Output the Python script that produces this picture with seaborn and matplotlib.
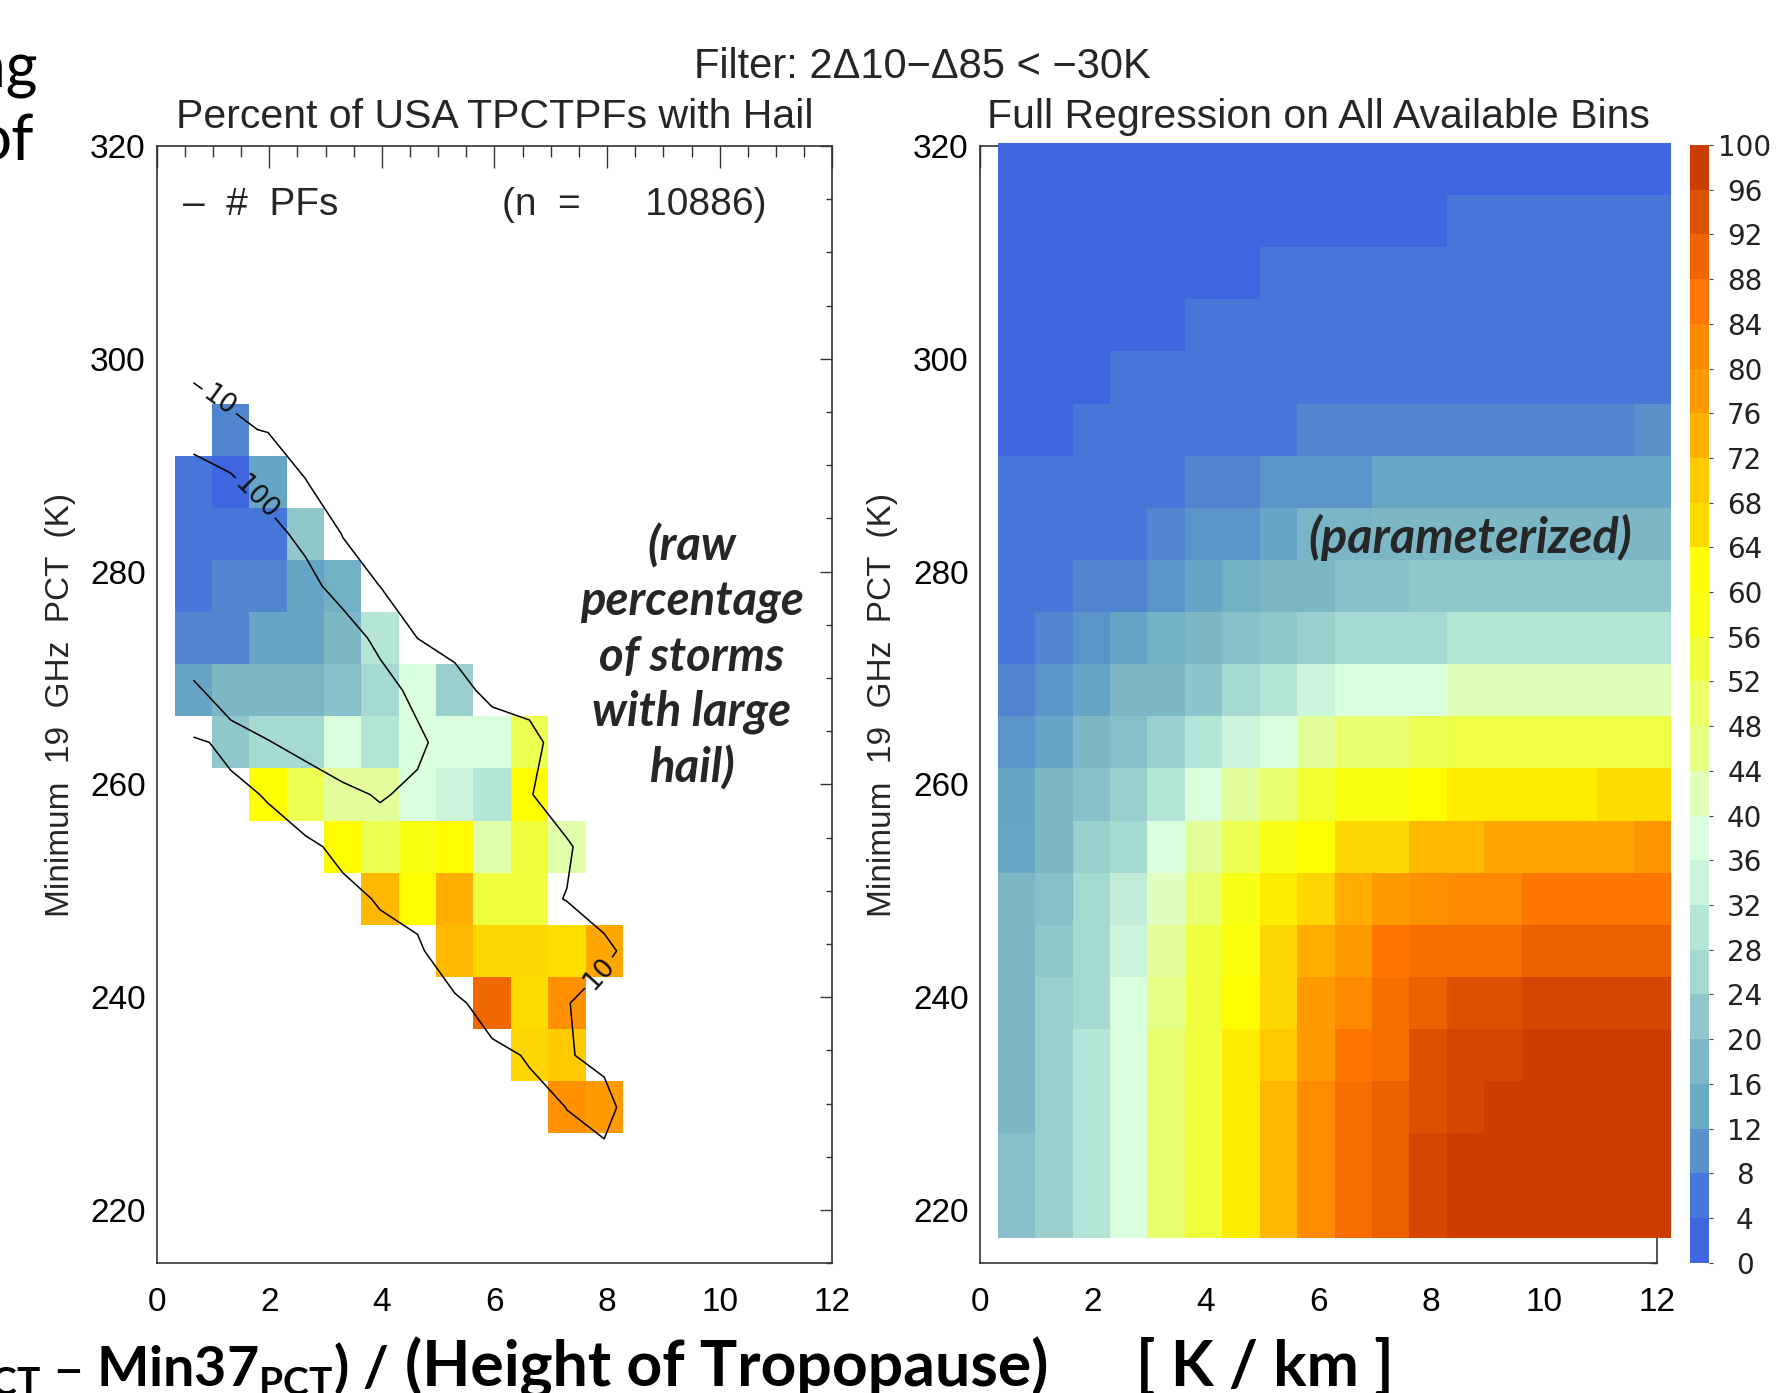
import numpy as np
import matplotlib
matplotlib.use("Agg")
import matplotlib.pyplot as plt
import seaborn as sns
from matplotlib.colors import ListedColormap, BoundaryNorm, Normalize
from matplotlib.cm import ScalarMappable

sns.set_theme(style="white")
plt.rcParams["font.family"] = ["Liberation Sans", "DejaVu Sans"]

# ---- bin geometry (x in K/km, y in K) ----
x_edges = np.linspace(0.32, 12.26, 19)
y_edges = np.linspace(217.4, 320.3, 22)
x_mid = 0.5 * (x_edges[:-1] + x_edges[1:])
y_mid = 0.5 * (y_edges[:-1] + y_edges[1:])

# colour bands of the colour bar, 0-4 ... 96-100
band_colors = ["#3F66DE", "#4878D8", "#5A92C9", "#6AACC4", "#7EB8C6",
               "#90C7CA", "#A6D9D1", "#B5E5D6", "#CBF5DA", "#D9FFDE",
               "#DFFFB8", "#E6FF85", "#EAFF68", "#F0FF3C", "#F8FF12",
               "#FFFF00", "#FFDC00", "#FFCB00", "#FFB300", "#FF9B00",
               "#FF8A00", "#FF7700", "#EE6500", "#DD5200", "#CC3D00"]
cbar_levels = [0, 4, 8, 12, 16, 20, 24, 28, 32, 36, 40, 44, 48, 52, 56,
               60, 64, 68, 72, 76, 80, 84, 88, 92, 96, 100]

N = np.nan
# raw percentage of PFs with hail; rows from 220 K (bottom) up to 320 K
raw_pct = [
    [N, N, N, N, N, N, N, N, N, N, N, N, N, N, N, N, N, N],
    [N, N, N, N, N, N, N, N, N, N, N, N, N, N, N, N, N, N],
    [N, N, N, N, N, N, N, N, N, N, 80, 78, N, N, N, N, N, N],
    [N, N, N, N, N, N, N, N, N, 67.5, 70, N, N, N, N, N, N, N],
    [N, N, N, N, N, N, N, N, 89, 66, 80, N, N, N, N, N, N, N],
    [N, N, N, N, N, N, N, 73, 67.5, 67.5, 65.5, 76, N, N, N, N, N, N],
    [N, N, N, N, N, 73, 62, 75, 54, 54, N, N, N, N, N, N, N, N],
    [N, N, N, N, 62, 52, 58, 62, 43, 54, 43, N, N, N, N, N, N, N],
    [N, N, 62, 52, 44, 44, 38, 34, 30, 62, N, N, N, N, N, N, N, N],
    [N, 22, 26, 26, 38, 30, 38, 38, 38, 52, N, N, N, N, N, N, N, N],
    [13, 18, 18, 18, 20, 26, 38, 24, N, N, N, N, N, N, N, N, N, N],
    [8, 8, 13, 13, 18, 30, N, N, N, N, N, N, N, N, N, N, N, N],
    [6, 8, 8, 13, 15.5, N, N, N, N, N, N, N, N, N, N, N, N, N],
    [6, 6, 6, 22, N, N, N, N, N, N, N, N, N, N, N, N, N, N],
    [6, 2, 13, N, N, N, N, N, N, N, N, N, N, N, N, N, N, N],
    [N, 8, N, N, N, N, N, N, N, N, N, N, N, N, N, N, N, N],
    [N, N, N, N, N, N, N, N, N, N, N, N, N, N, N, N, N, N],
    [N, N, N, N, N, N, N, N, N, N, N, N, N, N, N, N, N, N],
    [N, N, N, N, N, N, N, N, N, N, N, N, N, N, N, N, N, N],
    [N, N, N, N, N, N, N, N, N, N, N, N, N, N, N, N, N, N],
    [N, N, N, N, N, N, N, N, N, N, N, N, N, N, N, N, N, N],
]

# number of PFs per bin (contoured at 10 and 100)
pf_count = [
    [0, 0, 0, 0, 0, 0, 0, 0, 0, 0, 0, 0, 0, 0, 0, 0, 0, 0],
    [0, 0, 0, 0, 0, 0, 0, 0, 0, 0, 4, 6.7, 0, 0, 0, 0, 0, 0],
    [0, 0, 0, 0, 0, 0, 0, 0, 0, 2, 10.3, 15, 0, 0, 0, 0, 0, 0],
    [0, 0, 0, 0, 0, 0, 0, 0, 2, 12.5, 11, 6.4, 0, 0, 0, 0, 0, 0],
    [0, 0, 0, 0, 0, 0, 0, 2, 27, 20, 11, 0, 0, 0, 0, 0, 0, 0],
    [0, 0, 0, 0, 0, 1, 2, 44, 45, 25, 20, 15, 0, 0, 0, 0, 0, 0],
    [0, 0, 0, 0, 2, 12.4, 27, 60, 50, 14, 9.5, 0, 0, 0, 0, 0, 0, 0],
    [0, 0, 0, 3, 18, 40, 50, 70, 45, 30, 12, 0, 0, 0, 0, 0, 0, 0],
    [0, 3, 12, 36, 70, 111, 73, 60, 35, 11, 0, 0, 0, 0, 0, 0, 0, 0],
    [4, 18, 95, 136, 197, 250, 129, 29, 25, 16, 0, 0, 0, 0, 0, 0, 0, 0],
    [62, 209, 195, 250, 300, 160, 60, 19, 3, 2, 0, 0, 0, 0, 0, 0, 0, 0],
    [258, 350, 300, 250, 180, 60, 9.8, 2, 0, 0, 0, 0, 0, 0, 0, 0, 0, 0],
    [300, 380, 300, 151, 37, 9.5, 2, 0, 0, 0, 0, 0, 0, 0, 0, 0, 0, 0],
    [250, 350, 149, 60, 8, 2, 0, 0, 0, 0, 0, 0, 0, 0, 0, 0, 0, 0],
    [151, 117, 43, 10.5, 0, 0, 0, 0, 0, 0, 0, 0, 0, 0, 0, 0, 0, 0],
    [55, 15, 8, 2, 0, 0, 0, 0, 0, 0, 0, 0, 0, 0, 0, 0, 0, 0],
    [5, 2, 0, 0, 0, 0, 0, 0, 0, 0, 0, 0, 0, 0, 0, 0, 0, 0],
    [0, 0, 0, 0, 0, 0, 0, 0, 0, 0, 0, 0, 0, 0, 0, 0, 0, 0],
    [0, 0, 0, 0, 0, 0, 0, 0, 0, 0, 0, 0, 0, 0, 0, 0, 0, 0],
    [0, 0, 0, 0, 0, 0, 0, 0, 0, 0, 0, 0, 0, 0, 0, 0, 0, 0],
    [0, 0, 0, 0, 0, 0, 0, 0, 0, 0, 0, 0, 0, 0, 0, 0, 0, 0],
]

# full regression (parameterized percentage); rows from 220 K up to 320 K
fit_pct = [
    [20, 24, 30, 38, 49, 54, 64, 73, 81.5, 88, 90.5, 96, 98, 98, 98, 98, 98, 98],
    [20, 24, 30, 38, 49, 54, 64, 73, 81.5, 88, 90.5, 96, 98, 98, 98, 98, 98, 98],
    [18, 24, 30, 38, 49, 54, 64, 73, 81.5, 88, 90.5, 94, 96, 98, 98, 98, 98, 98],
    [18, 24, 30, 38, 49, 54, 64, 70, 78, 86, 88, 94, 96, 96, 98, 98, 98, 98],
    [18, 24, 26, 38, 46, 54, 62, 67.5, 78, 82, 88, 90.5, 94, 94, 96, 96, 96, 96],
    [18, 22, 26, 34, 44, 54, 59.5, 67.5, 75, 78, 86, 88, 88, 88, 90.5, 90.5, 90.5, 90.5],
    [18, 20, 26, 32, 41, 49, 57.5, 64, 67.5, 75, 78, 80, 82, 82, 86, 86, 86, 86],
    [13.5, 18, 24, 26, 38, 44, 52, 57.5, 62, 67.5, 67.5, 73, 73, 76, 76, 76, 76, 79],
    [13, 18, 20, 24, 30, 38, 44, 49, 55, 58, 58, 62, 64, 64, 64, 64, 66, 66],
    [10.5, 13, 18, 20, 24, 30, 34, 38, 44, 49, 49, 52, 53, 53, 53, 53, 53, 53],
    [8, 10.5, 13, 18, 18, 21.5, 26, 30, 34, 38, 38, 38, 42, 42, 42, 42, 42, 42],
    [6, 8, 10.5, 13, 15.5, 18, 20, 22, 24, 26, 26, 26, 30, 30, 30, 30, 30, 30],
    [6, 6, 8, 8, 10.5, 13, 15.5, 18, 18, 20, 20, 22, 22, 22, 22, 22, 22, 22],
    [6, 6, 6, 6, 8, 10.5, 10.5, 13, 17, 17, 18, 18, 18, 18, 18, 18, 18, 18],
    [6, 6, 6, 6, 6, 8, 8, 10.5, 10.5, 10.5, 13.5, 13.5, 13.5, 13.5, 13.5, 13.5, 13.5, 13.5],
    [2, 2, 6, 6, 6, 6, 6, 6, 8, 8, 8, 8, 8, 8, 8, 8, 8, 10],
    [2, 2, 2, 6, 6, 6, 6, 6, 6, 6, 6, 6, 6, 6, 6, 6, 6, 6],
    [2, 2, 2, 2, 2, 6, 6, 6, 6, 6, 6, 6, 6, 6, 6, 6, 6, 6],
    [2, 2, 2, 2, 2, 2, 2, 6, 6, 6, 6, 6, 6, 6, 6, 6, 6, 6],
    [2, 2, 2, 2, 2, 2, 2, 2, 2, 2, 2, 2, 6, 6, 6, 6, 6, 6],
    [2, 2, 2, 2, 2, 2, 2, 2, 2, 2, 2, 2, 2, 2, 2, 2, 2, 2],
]

# ---- colour maps ----
cell_cmap = sns.blend_palette(band_colors, as_cmap=True)
cell_norm = Normalize(vmin=2, vmax=98)
bar_cmap = ListedColormap(band_colors)
bar_norm = BoundaryNorm(cbar_levels, bar_cmap.N)

W, H = 1790, 1393
fig = plt.figure(figsize=(W / 100, H / 100), dpi=100)


def px_axes(x0, y0, x1, y1):
    return fig.add_axes([x0 / W, 1 - y1 / H, (x1 - x0) / W, (y1 - y0) / H])


ax1 = px_axes(156.7, 146, 832.3, 1263.3)
ax2 = px_axes(979.7, 146, 1656.7, 1263.3)
cax = px_axes(1690, 145, 1708.7, 1262.7)

for ax in (ax1, ax2):
    ax.set_xlim(0, 12)
    ax.set_ylim(215, 320)
    ax.set_xticks(np.arange(0, 13, 2))
    ax.set_xticks(np.arange(0, 12.01, 0.5), minor=True)
    ax.set_yticks(np.arange(220, 321, 20))
    ax.set_yticks(np.arange(215, 321, 5), minor=True)
    ax.tick_params(which="both", direction="in", top=True, right=True,
                   color="#333333", width=1.0, labelsize=24, labelcolor="black")
    ax.tick_params(axis="x", which="major", length=16, pad=17)
    ax.tick_params(axis="x", which="minor", length=8)
    ax.tick_params(axis="y", which="major", length=9, pad=8)
    ax.tick_params(axis="y", which="minor", length=4.5)
    for sp in ax.spines.values():
        sp.set_linewidth(1.2)
        sp.set_color("#333333")
    ax.set_ylabel("Minimum  19  GHz  PCT  (K)", fontsize=24)
    ax.yaxis.set_label_coords(-0.12, 0.5)

# left: raw percentages + PF count contours
ax1.pcolormesh(x_edges, y_edges, np.ma.masked_invalid(np.array(raw_pct)),
               cmap=cell_cmap, norm=cell_norm, shading="flat")
cs = ax1.contour(x_mid, y_mid, np.array(pf_count), levels=[10, 100],
                 colors="black", linewidths=1.1)
clabels = ax1.clabel(cs, fmt="%d", fontsize=19, inline=True, inline_spacing=6,
                     colors="black",
                     manual=[(1.15, 296.3), (1.8, 287.2), (7.85, 242.3)])
for t in clabels:
    t.set_fontfamily(["DejaVu Sans"])
    t.set_fontweight("normal")
    t.set_color("#111111")

ax1.set_title("Percent of USA TPCTPFs with Hail", fontsize=29.5, pad=13)
ax1.text(0.039, 0.947, "–  #  PFs", transform=ax1.transAxes, va="center",
         fontsize=28)
ax1.text(0.511, 0.947, "(n  =      10886)", transform=ax1.transAxes, va="center",
         fontsize=28)

# right: regression
ax2.pcolormesh(x_edges, y_edges, np.array(fit_pct), cmap=cell_cmap,
               norm=cell_norm, shading="flat", zorder=3, clip_on=False)
ax2.set_title("Full Regression on All Available Bins", fontsize=29.5, pad=13)

# colour bar
cb = fig.colorbar(ScalarMappable(norm=bar_norm, cmap=bar_cmap), cax=cax,
                  ticks=cbar_levels)
cb.outline.set_visible(False)
cax.tick_params(direction="out", length=3, width=0.8, color="#444444",
                pad=23, labelsize=20, labelcolor="#222222")
for t in cax.get_yticklabels():
    t.set_ha("center")
    t.set_fontfamily(["DejaVu Sans"])
    t.set_fontweight("normal")

# figure-level annotations
fig.text(922 / W, 1 - 77.6 / H, "Filter: 2Δ10−Δ85 < −30K", ha="center",
         va="baseline", fontsize=30)

bold_it = dict(fontweight="bold", fontstyle="italic", family=["Lato", "DejaVu Sans"])
fig.text(692 / W, 1 - 657 / H, "(raw\npercentage\nof storms\nwith large\nhail)",
         ha="center", va="center", multialignment="center", fontsize=34,
         linespacing=1.3, **bold_it)
fig.text(1470 / W, 1 - 537 / H, "(parameterized)", ha="center", va="center",
         fontsize=35, **bold_it)

# slide text cut off at the edges
slide = dict(family=["Lato", "DejaVu Sans"], color="black")
fig.text(38 / W, 1 - 86 / H, "ing", ha="right", va="baseline", fontsize=44, **slide)
fig.text(34 / W, 1 - 160 / H, "of", ha="right", va="baseline", fontsize=46, **slide)
fig.text(388 / W, 1 - 1386 / H,
         r"Min37$_{\mathregular{PCT}}$ – Min37$_{\mathregular{PCT}}$) /",
         ha="right", va="baseline", fontsize=40, fontweight="bold", **slide)
fig.text(405 / W, 1 - 1386 / H, "(Height of Tropopause)", ha="left",
         va="baseline", fontsize=45, fontweight="bold", **slide)
fig.text(1136 / W, 1 - 1386 / H, "[ K / km ]", ha="left", va="baseline",
         fontsize=45, fontweight="bold", **slide)

fig.savefig("out.png", dpi=100, facecolor="white")
